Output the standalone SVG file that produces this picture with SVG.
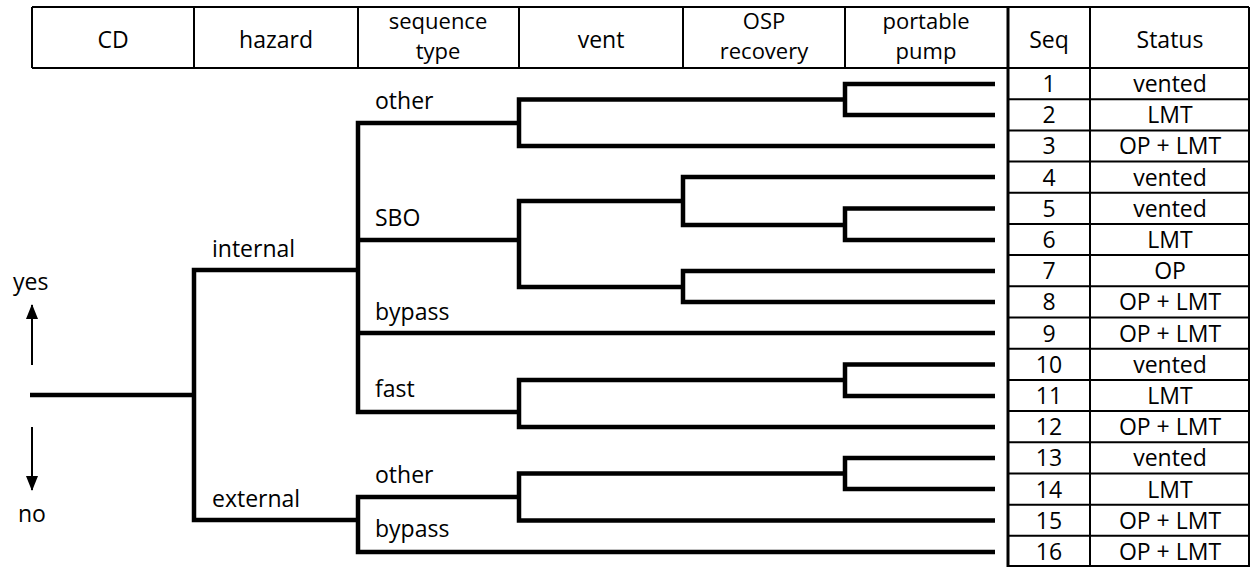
<svg xmlns="http://www.w3.org/2000/svg" width="1251" height="567" viewBox="0 0 1251 567">
<style>
text{font-family:"Open Sans","Liberation Sans",sans-serif;font-size:23px;fill:#000}
.c{text-anchor:middle}
.h2{font-size:22px}
.grid{stroke:#000;stroke-width:2;fill:none}
.tree{stroke:#000;stroke-width:4.5;fill:none;stroke-linejoin:miter;stroke-linecap:butt}
.arr{stroke:#000;stroke-width:2;fill:none}
</style>
<defs>
<marker id="ah" viewBox="0 0 15 12" refX="14" refY="6" markerWidth="15" markerHeight="12" orient="auto" markerUnits="userSpaceOnUse">
<path d="M0 0 L15 6 L0 12 Z" fill="#000"/>
</marker>
</defs>
<rect width="1251" height="567" fill="#fff"/>

<g id="header">
<path class="grid" d="M32 7 H1249 M32 68 H1249 M32 7 V68 M194 7 V68 M358 7 V68 M519 7 V68 M683 7 V68 M845 7 V68"/>
<text class="c" x="113" y="48">CD</text>
<text class="c" x="276" y="48">hazard</text>
<text class="c h2" x="438" y="28.5">sequence</text>
<text class="c h2" x="438" y="58.5">type</text>
<text class="c" x="601" y="48">vent</text>
<text class="c h2" x="764" y="28.5">OSP</text>
<text class="c h2" x="764" y="58.5">recovery</text>
<text class="c h2" x="926" y="28.5">portable</text>
<text class="c h2" x="926" y="58.5">pump</text>
<text class="c" x="1049" y="48">Seq</text>
<text class="c" x="1170" y="48">Status</text>
</g>

<g id="table">
<path class="grid" d="M1090 7 V567 M1249 7 V567 M1008 99.2 H1249 M1008 130.4 H1249 M1008 161.6 H1249 M1008 192.8 H1249 M1008 223.9 H1249 M1008 255.1 H1249 M1008 286.3 H1249 M1008 317.5 H1249 M1008 348.7 H1249 M1008 379.9 H1249 M1008 411.1 H1249 M1008 442.3 H1249 M1008 473.5 H1249 M1008 504.7 H1249 M1008 535.8 H1249 M1008 566 H1249"/>
<path d="M1008 7 V567" stroke="#000" stroke-width="3"/>
<g id="row1"><text class="c" x="1049" y="92">1</text><text class="c" x="1170" y="92">vented</text></g>
<g id="row2"><text class="c" x="1049" y="123.2">2</text><text class="c" x="1170" y="123.2">LMT</text></g>
<g id="row3"><text class="c" x="1049" y="154.4">3</text><text class="c" x="1170" y="154.4">OP + LMT</text></g>
<g id="row4"><text class="c" x="1049" y="185.6">4</text><text class="c" x="1170" y="185.6">vented</text></g>
<g id="row5"><text class="c" x="1049" y="216.8">5</text><text class="c" x="1170" y="216.8">vented</text></g>
<g id="row6"><text class="c" x="1049" y="248">6</text><text class="c" x="1170" y="248">LMT</text></g>
<g id="row7"><text class="c" x="1049" y="279.2">7</text><text class="c" x="1170" y="279.2">OP</text></g>
<g id="row8"><text class="c" x="1049" y="310.3">8</text><text class="c" x="1170" y="310.3">OP + LMT</text></g>
<g id="row9"><text class="c" x="1049" y="341.5">9</text><text class="c" x="1170" y="341.5">OP + LMT</text></g>
<g id="row10"><text class="c" x="1049" y="372.7">10</text><text class="c" x="1170" y="372.7">vented</text></g>
<g id="row11"><text class="c" x="1049" y="403.9">11</text><text class="c" x="1170" y="403.9">LMT</text></g>
<g id="row12"><text class="c" x="1049" y="435.1">12</text><text class="c" x="1170" y="435.1">OP + LMT</text></g>
<g id="row13"><text class="c" x="1049" y="466.3">13</text><text class="c" x="1170" y="466.3">vented</text></g>
<g id="row14"><text class="c" x="1049" y="497.5">14</text><text class="c" x="1170" y="497.5">LMT</text></g>
<g id="row15"><text class="c" x="1049" y="528.7">15</text><text class="c" x="1170" y="528.7">OP + LMT</text></g>
<g id="row16"><text class="c" x="1049" y="559.9">16</text><text class="c" x="1170" y="559.9">OP + LMT</text></g>
</g>

<g id="connectors">
<path class="tree" d="M30 395 H194 M358 270 H194 V520 H358"/>
<path class="tree" d="M519 123 H358 V412 H519 M358 240 H519 M358 333 H995"/>
<path class="tree" d="M845 99.5 H519 V146 H995 M995 84 H845 V115 H995"/>
<path class="tree" d="M683 201 H519 V287 H683 M995 177 H683 V225 H845 M995 208.5 H845 V240 H995 M995 271 H683 V302 H995"/>
<path class="tree" d="M845 380 H519 V427 H995 M995 364.5 H845 V396 H995"/>
<path class="tree" d="M519 497 H358 V552 H995 M845 473.5 H519 V520.5 H995 M995 458 H845 V489 H995"/>
<path class="arr" d="M32 365 V305" marker-end="url(#ah)"/>
<path class="arr" d="M32 427 V490" marker-end="url(#ah)"/>
</g>

<g id="labels">
<g id="n-yes"><text x="13" y="290">yes</text></g>
<g id="n-no"><text x="18" y="522">no</text></g>
<g id="n-internal"><text x="212" y="257">internal</text></g>
<g id="n-external"><text x="212" y="507">external</text></g>
<g id="n-other1"><text x="375" y="109">other</text></g>
<g id="n-sbo"><text x="375" y="226">SBO</text></g>
<g id="n-bypass1"><text x="375" y="320">bypass</text></g>
<g id="n-fast"><text x="375" y="397">fast</text></g>
<g id="n-other2"><text x="375" y="483">other</text></g>
<g id="n-bypass2"><text x="375" y="537">bypass</text></g>
</g>
</svg>
